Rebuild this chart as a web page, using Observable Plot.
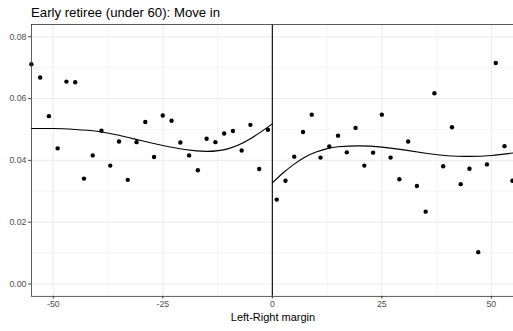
<!DOCTYPE html>
<html>
<head>
<meta charset="utf-8">
<script src="https://cdn.jsdelivr.net/npm/d3@7"></script>
<script src="https://cdn.jsdelivr.net/npm/@observablehq/plot@0.6"></script>
<style>
  html, body { margin: 0; padding: 0; background: #fff; }
  #wrap { position: relative; width: 513px; height: 331px; overflow: hidden; font-family: "Liberation Sans", Arial, sans-serif; }
  #title { position: absolute; left: 31px; top: 6.4px; font-size: 13.2px; line-height: 1; color: #000; white-space: nowrap; }
  #xlab { position: absolute; left: 31px; width: 484px; top: 312px; font-size: 11px; line-height: 1; color: #000; text-align: center; white-space: nowrap; }
  #chart { position: absolute; left: 0; top: 0; }
</style>
</head>
<body>
<div id="wrap">
  <div id="chart"></div>
  <div id="title">Early retiree (under 60): Move in</div>
  <div id="xlab">Left-Right margin</div>
</div>
<script>
const xTicks = [-50, -25, 0, 25, 50];
const xMinor = [-37.5, -12.5, 12.5, 37.5];
const yTicks = [0, 0.02, 0.04, 0.06, 0.08];
const yMinor = [0.01, 0.03, 0.05, 0.07];

const leftX = [-55, -53, -51, -49, -47, -45, -43, -41, -39, -37, -35, -33, -31, -29, -27, -25, -23, -21, -19, -17, -15, -13, -11, -9, -7, -5, -3, -1];
const leftY = [0.0711, 0.0668, 0.0543, 0.0439, 0.0655, 0.0653, 0.0341, 0.0416, 0.0496, 0.0383, 0.0461, 0.0337, 0.0459, 0.0524, 0.0411, 0.0545, 0.0528, 0.0458, 0.0416, 0.0368, 0.0470, 0.0459, 0.0487, 0.0495, 0.0432, 0.0515, 0.0372, 0.0499];

const rightX = [1, 3, 5, 7, 9, 11, 13, 15, 17, 19, 21, 23, 25, 27, 29, 31, 33, 35, 37, 39, 41, 43, 45, 47, 49, 51, 53, 54.8];
const rightY = [0.0273, 0.0334, 0.0412, 0.0492, 0.0548, 0.0409, 0.0445, 0.0480, 0.0426, 0.0505, 0.0383, 0.0425, 0.0548, 0.0409, 0.0339, 0.0461, 0.0317, 0.0234, 0.0617, 0.0381, 0.0507, 0.0323, 0.0373, 0.0103, 0.0387, 0.0715, 0.0446, 0.0334];

const leftFitX = [-55, -50, -45, -40, -35, -30, -25, -20, -15, -10, -5, 0];
const leftFitY = [0.0503, 0.0503, 0.0500, 0.0494, 0.0481, 0.0464, 0.0448, 0.0435, 0.0429, 0.0438, 0.0470, 0.0518];

const rightFitX = [0, 2.5, 5, 7.5, 10, 12.5, 15, 20, 25, 30, 35, 40, 45, 50, 55];
const rightFitY = [0.0327, 0.0360, 0.0388, 0.0411, 0.0427, 0.0438, 0.0444, 0.0447, 0.0443, 0.0434, 0.0423, 0.0415, 0.0413, 0.0416, 0.0424];

const pts = leftX.map((x, i) => ({x, y: leftY[i]})).concat(rightX.map((x, i) => ({x, y: rightY[i]})));
const leftFit = leftFitX.map((x, i) => ({x, y: leftFitY[i]}));
const rightFit = rightFitX.map((x, i) => ({x, y: rightFitY[i]}));

const font = "Liberation Sans, Arial, sans-serif";

const chart = Plot.plot({
  width: 515,
  height: 331,
  marginLeft: 31,
  marginRight: 0,
  marginTop: 24,
  marginBottom: 34,
  style: { fontFamily: font, background: "transparent", overflow: "hidden" },
  x: { domain: [-55, 55.05], label: null },
  y: { domain: [-0.004, 0.084], label: null },
  marks: [
    Plot.gridX(xMinor, { stroke: "#EBEBEB", strokeOpacity: 1, strokeWidth: 0.5 }),
    Plot.gridY(yMinor, { stroke: "#EBEBEB", strokeOpacity: 1, strokeWidth: 0.5 }),
    Plot.gridX(xTicks, { stroke: "#EBEBEB", strokeOpacity: 1, strokeWidth: 1 }),
    Plot.gridY(yTicks, { stroke: "#EBEBEB", strokeOpacity: 1, strokeWidth: 1 }),
    Plot.ruleX([0], { stroke: "#000", strokeWidth: 1.1 }),
    Plot.line(leftFit, { x: "x", y: "y", stroke: "#000", strokeWidth: 1.1, curve: "natural" }),
    Plot.line(rightFit, { x: "x", y: "y", stroke: "#000", strokeWidth: 1.1, curve: "natural" }),
    Plot.dot(pts, { x: "x", y: "y", r: 2.2, fill: "#000", stroke: null }),
    Plot.axisX(xTicks, { tickSize: 2.75, tickPadding: 2.2, fontSize: 8.8, color: "#4D4D4D", stroke: "#333", tickFormat: d => String(d), label: null }),
    Plot.axisY(yTicks, { tickSize: 2.75, tickPadding: 2.2, fontSize: 8.8, color: "#4D4D4D", stroke: "#333", tickFormat: d => d.toFixed(2), label: null }),
    Plot.frame({ stroke: "#333", strokeWidth: 0.8 })
  ]
});
document.getElementById("chart").appendChild(chart);
</script>
</body>
</html>
